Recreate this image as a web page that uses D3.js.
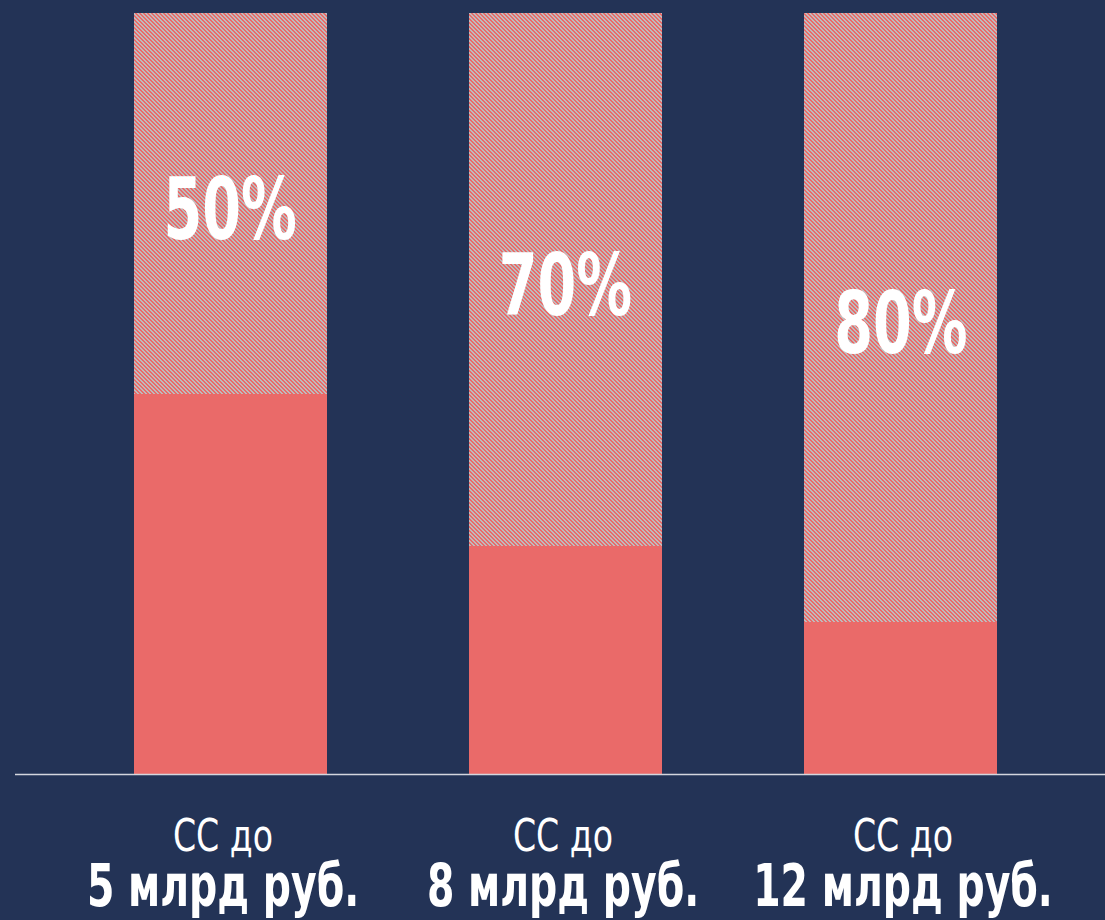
<!DOCTYPE html>
<html>
<head>
<meta charset="utf-8">
<script src="https://cdn.jsdelivr.net/npm/d3@7"></script>
<style>
  html, body { margin: 0; padding: 0; background: #233356; }
  svg { display: block; }
</style>
</head>
<body>
<div id="app"></div>
<script>
const capitalLimits = ['5 млрд руб.', '8 млрд руб.', '12 млрд руб.'];
const capitalPrefix = ['СС до', 'СС до', 'СС до'];
const reductionShare = [50, 70, 80];   // hatched part, %
const remainingShare = [50, 30, 20];   // solid part, %

const render = () => {
  const width = 1105;
  const height = 920;
  const top = 13;
  const baseline = 774;
  const font = "'DejaVu Sans Condensed', 'Liberation Sans Narrow', 'Roboto', sans-serif";
  const red = '#ea6a69';

  const data = capitalLimits.map((name, i) => ({
    name,
    prefix: capitalPrefix[i],
    cut: reductionShare[i],
    rest: remainingShare[i]
  }));

  const x = d3.scaleBand()
    .domain(capitalLimits)
    .range([33, 1098])
    .paddingInner(0.425)
    .paddingOuter(0.3);

  // labels under the axis sit on a slightly wider spacing than the bars
  const xLabel = d3.scalePoint()
    .domain(capitalLimits)
    .range([223, 903]);

  const y = d3.scaleLinear()
    .domain([0, 100])
    .range([baseline, top]);

  const svg = d3.select('#app')
    .append('svg')
    .attr('width', width)
    .attr('height', height);

  svg.append('rect')
    .attr('width', width)
    .attr('height', height)
    .attr('fill', '#233356');

  // pixel-stepped diagonal stripes (4x4 tile)
  const pattern = svg.append('defs')
    .append('pattern')
    .attr('id', 'hatch')
    .attr('patternUnits', 'userSpaceOnUse')
    .attr('width', 4)
    .attr('height', 4);
  pattern.append('rect')
    .attr('width', 4).attr('height', 4).attr('fill', red);
  pattern.selectAll('.px')
    .data([[0, 0], [1, 0], [1, 1], [2, 1], [2, 2], [3, 2], [3, 3], [0, 3]])
    .enter()
      .append('rect')
      .attr('x', d => d[0])
      .attr('y', d => d[1])
      .attr('width', 1)
      .attr('height', 1)
      .attr('fill', '#bfbbbc')
      .attr('shape-rendering', 'crispEdges');

  const bars = svg.append('g')
    .selectAll('g')
    .data(data)
    .enter()
      .append('g');

  // 1. hatched (cut) part on top
  bars.append('rect')
    .attr('x', d => x(d.name))
    .attr('y', y(100))
    .attr('width', x.bandwidth())
    .attr('height', d => y(d.rest) - y(100))
    .attr('fill', 'url(#hatch)')
    .attr('shape-rendering', 'crispEdges');

  // 2. solid part at the bottom
  bars.append('rect')
    .attr('x', d => x(d.name))
    .attr('y', d => y(d.rest))
    .attr('width', x.bandwidth())
    .attr('height', d => y(0) - y(d.rest))
    .attr('fill', red)
    .attr('shape-rendering', 'crispEdges');

  // 3. percent labels centred in the hatched part
  bars.append('text')
    .attr('transform', d => `translate(${x(d.name) + x.bandwidth() / 2}, ${(y(100) + y(d.rest)) / 2 + 36}) scale(0.72, 1)`)
    .attr('text-anchor', 'middle')
    .attr('fill', '#ffffff')
    .attr('font-family', font)
    .attr('font-weight', 'bold')
    .attr('font-size', 86)
    .text(d => `${d.cut}%`);

  // 4. baseline
  svg.append('line')
    .attr('x1', 15)
    .attr('x2', width)
    .attr('y1', baseline + 0.5)
    .attr('y2', baseline + 0.5)
    .attr('stroke', '#d4d6de')
    .attr('stroke-width', 1.5);

  // 5. category labels
  const labels = svg.append('g')
    .selectAll('g')
    .data(data)
    .enter()
      .append('g')
      .attr('transform', d => `translate(${xLabel(d.name)}, 0)`);

  labels.append('text')
    .attr('transform', 'translate(0, 851) scale(0.82, 1)')
    .attr('text-anchor', 'middle')
    .attr('fill', '#ffffff')
    .attr('font-family', font)
    .attr('font-size', 45)
    .text(d => d.prefix);

  labels.append('text')
    .attr('transform', 'translate(0, 906) scale(0.755, 1)')
    .attr('text-anchor', 'middle')
    .attr('fill', '#ffffff')
    .attr('font-family', font)
    .attr('font-weight', 'bold')
    .attr('font-size', 58)
    .text(d => d.name);
};

document.addEventListener('DOMContentLoaded', render);
</script>
</body>
</html>
